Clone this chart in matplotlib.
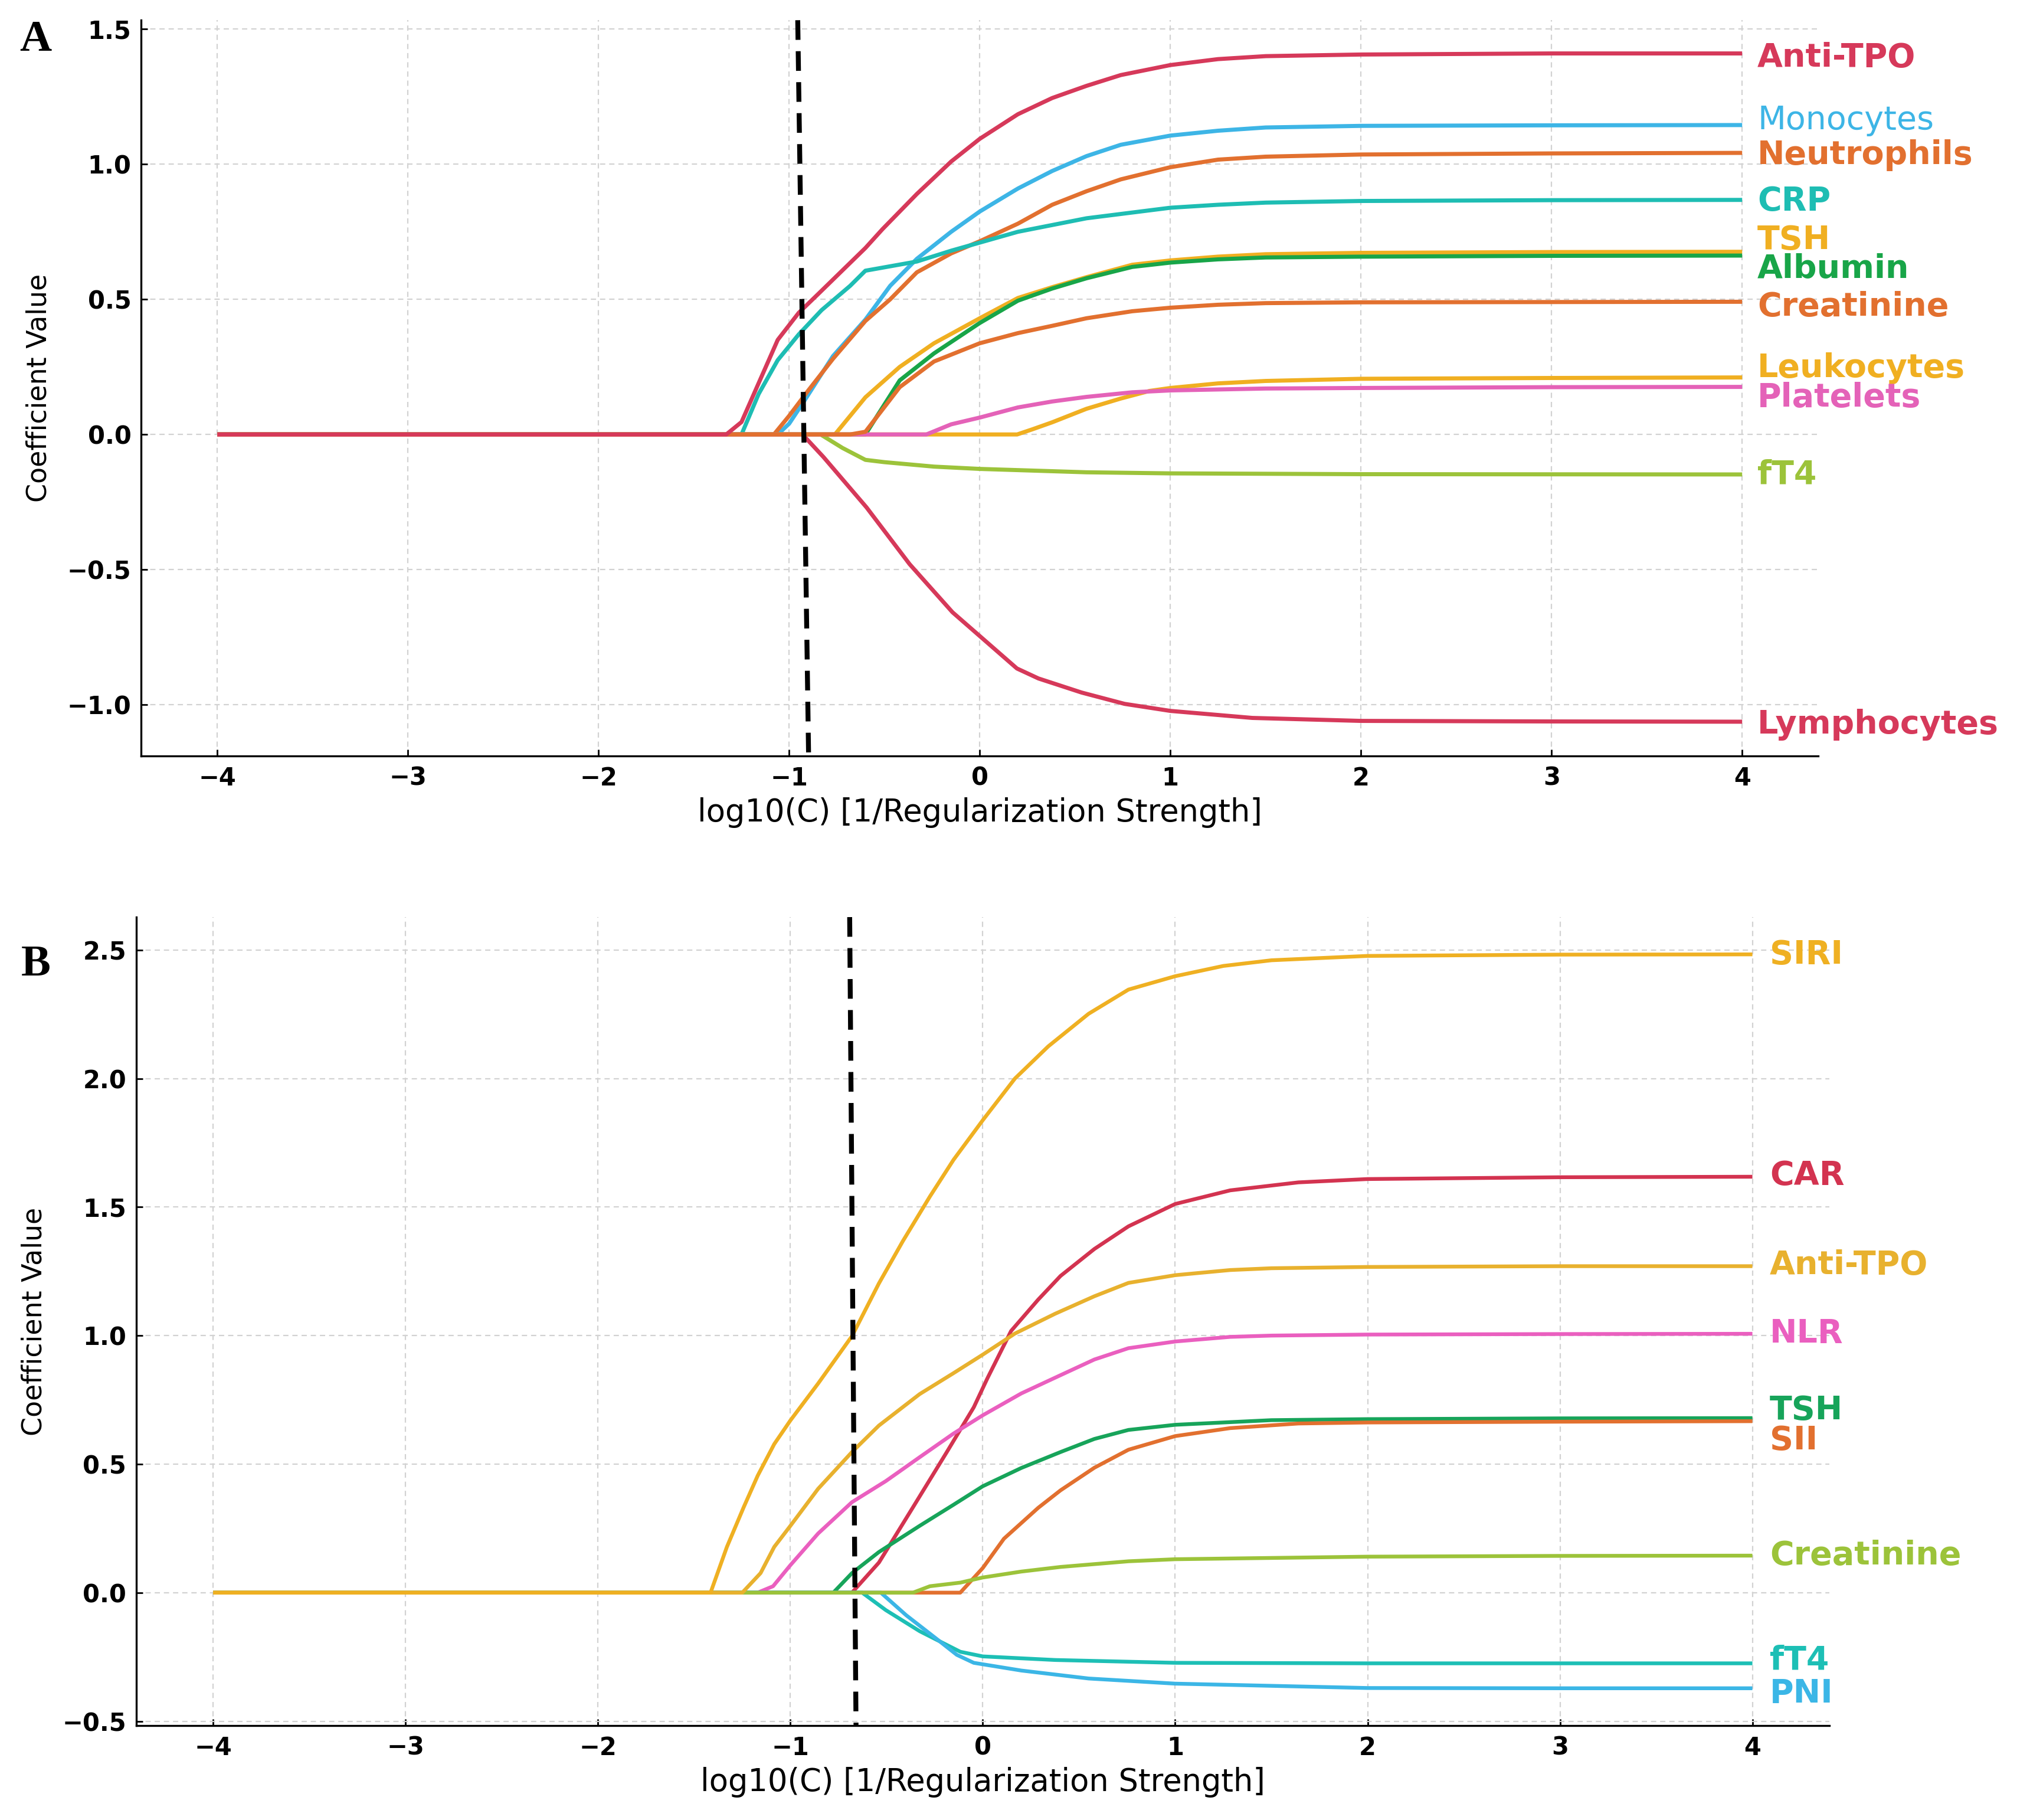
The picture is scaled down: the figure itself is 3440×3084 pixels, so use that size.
import matplotlib
matplotlib.use("Agg")
import matplotlib.pyplot as plt

# ---------------- panel A data (log10 C, coefficient) ----------------
a_antitpo_x = [-4, -1.33, -1.25, -1.16, -1.06, -0.95, -0.84, -0.60, -0.51, -0.33, -0.15, 0.0, 0.2, 0.38, 0.56, 0.74, 1.0, 1.25, 1.5, 2.0, 3.0, 4.0]
a_antitpo_y = [0, 0, 0.046, 0.19, 0.35, 0.45, 0.525, 0.69, 0.76, 0.89, 1.01, 1.094, 1.185, 1.245, 1.29, 1.33, 1.367, 1.389, 1.40, 1.406, 1.41, 1.41]

a_mono_x = [-4, -1.06, -1.0, -0.92, -0.77, -0.60, -0.47, -0.33, -0.15, 0, 0.2, 0.38, 0.56, 0.74, 1.0, 1.25, 1.5, 2, 3, 4]
a_mono_y = [0, 0, 0.04, 0.125, 0.29, 0.425, 0.55, 0.65, 0.75, 0.825, 0.91, 0.975, 1.03, 1.072, 1.106, 1.124, 1.136, 1.142, 1.144, 1.145]

a_neut_x = [-4, -1.08, -1.0, -0.9, -0.77, -0.6, -0.47, -0.33, -0.15, 0, 0.2, 0.38, 0.56, 0.74, 1.0, 1.25, 1.5, 2, 3, 4]
a_neut_y = [0, 0, 0.069, 0.1625, 0.28, 0.42, 0.50, 0.60, 0.67, 0.715, 0.78, 0.85, 0.90, 0.944, 0.989, 1.017, 1.028, 1.036, 1.04, 1.042]

a_crp_x = [-4, -1.25, -1.16, -1.06, -0.95, -0.83, -0.68, -0.60, -0.33, -0.15, 0, 0.2, 0.38, 0.56, 1.0, 1.25, 1.5, 2, 3, 4]
a_crp_y = [0, 0, 0.15, 0.275, 0.37, 0.46, 0.55, 0.606, 0.64, 0.68, 0.71, 0.75, 0.775, 0.80, 0.839, 0.85, 0.858, 0.864, 0.867, 0.868]

a_tsh_x = [-4, -0.76, -0.6, -0.42, -0.24, 0, 0.2, 0.38, 0.56, 0.8, 1.0, 1.25, 1.5, 2, 3, 4]
a_tsh_y = [0, 0, 0.1375, 0.25, 0.3375, 0.43, 0.505, 0.545, 0.582, 0.628, 0.644, 0.658, 0.667, 0.672, 0.675, 0.676]

a_alb_x = [-4, -0.60, -0.42, -0.24, 0, 0.2, 0.38, 0.56, 0.8, 1.0, 1.25, 1.5, 2, 3, 4]
a_alb_y = [0, 0, 0.2, 0.30, 0.4125, 0.495, 0.54, 0.578, 0.62, 0.636, 0.648, 0.655, 0.658, 0.661, 0.662]

a_creat_x = [-4, -0.68, -0.6, -0.42, -0.24, 0, 0.2, 0.38, 0.56, 0.8, 1.0, 1.25, 1.5, 2, 3, 4]
a_creat_y = [0, 0, 0.01, 0.175, 0.27, 0.3375, 0.375, 0.402, 0.43, 0.456, 0.469, 0.48, 0.486, 0.489, 0.49, 0.491]

a_leuko_x = [-4, 0.196, 0.276, 0.38, 0.56, 0.74, 0.89, 1.0, 1.25, 1.5, 2, 3, 4]
a_leuko_y = [0, 0, 0.019, 0.045, 0.095, 0.133, 0.161, 0.172, 0.189, 0.198, 0.206, 0.209, 0.211]

a_plt_x = [-4, -0.28, -0.15, 0, 0.2, 0.38, 0.56, 0.8, 1.0, 1.5, 2, 3, 4]
a_plt_y = [0, 0, 0.0375, 0.0625, 0.10, 0.122, 0.139, 0.156, 0.163, 0.17, 0.172, 0.175, 0.176]

a_ft4_x = [-0.835, -0.72, -0.60, -0.5, -0.24, 0, 0.56, 1.0, 2, 4]
a_ft4_y = [0, -0.05, -0.094, -0.1025, -0.119, -0.1275, -0.14, -0.144, -0.147, -0.148]

a_lymph_x = [-4, -0.93, -0.82, -0.594, -0.368, -0.143, 0, 0.195, 0.308, 0.534, 0.76, 1.0, 1.43, 2, 3, 4]
a_lymph_y = [0, 0, -0.0835, -0.27, -0.48, -0.658, -0.746, -0.866, -0.903, -0.955, -0.997, -1.023, -1.049, -1.06, -1.062, -1.063]

# ---------------- panel B data ----------------
b_siri_x = [-4, -1.415, -1.33, -1.243, -1.17, -1.084, -1.0, -0.856, -0.68, -0.54, -0.416, -0.275, -0.152, 0, 0.167, 0.34, 0.55, 0.757, 1.0, 1.25, 1.5, 2, 3, 4]
b_siri_y = [0, 0, 0.178, 0.332, 0.455, 0.578, 0.67, 0.8135, 0.998, 1.203, 1.367, 1.541, 1.684, 1.838, 2.0, 2.125, 2.252, 2.346, 2.398, 2.438, 2.46, 2.477, 2.482, 2.483]

b_antitpo_x = [-4, -1.25, -1.155, -1.084, -1.0, -0.856, -0.68, -0.54, -0.328, -0.152, 0, 0.167, 0.376, 0.58, 0.757, 1.0, 1.286, 1.5, 2, 3, 4]
b_antitpo_y = [0, 0, 0.076, 0.178, 0.26, 0.404, 0.547, 0.65, 0.7725, 0.854, 0.926, 1.008, 1.085, 1.153, 1.205, 1.235, 1.255, 1.262, 1.267, 1.27, 1.27]

b_nlr_x = [-4, -1.17, -1.09, -1.0, -0.856, -0.68, -0.504, -0.328, -0.152, 0, 0.2, 0.404, 0.58, 0.757, 1.0, 1.286, 1.5, 2, 3, 4]
b_nlr_y = [0, 0, 0.025, 0.107, 0.23, 0.352, 0.434, 0.527, 0.619, 0.69, 0.775, 0.846, 0.907, 0.951, 0.977, 0.995, 1.0, 1.004, 1.006, 1.007]

b_car_x = [-4, -0.68, -0.54, -0.363, -0.187, -0.047, 0.024, 0.147, 0.288, 0.404, 0.58, 0.757, 1.0, 1.286, 1.64, 2, 3, 4]
b_car_y = [0, 0, 0.117, 0.332, 0.547, 0.721, 0.834, 1.018, 1.14, 1.232, 1.337, 1.425, 1.512, 1.565, 1.596, 1.609, 1.616, 1.618]

b_tsh_x = [-4, -0.777, -0.68, -0.54, -0.328, -0.152, 0, 0.2, 0.404, 0.58, 0.757, 1.0, 1.5, 2, 3, 4]
b_tsh_y = [0, 0, 0.076, 0.158, 0.26, 0.342, 0.414, 0.485, 0.547, 0.598, 0.633, 0.653, 0.671, 0.675, 0.678, 0.679]

b_sii_x = [-4, -0.117, 0, 0.11, 0.288, 0.404, 0.58, 0.757, 1.0, 1.286, 1.64, 2, 3, 4]
b_sii_y = [0, 0, 0.096, 0.21, 0.33, 0.398, 0.486, 0.556, 0.609, 0.64, 0.658, 0.662, 0.665, 0.667]

b_creat_x = [-4, -0.363, -0.275, -0.117, 0, 0.2, 0.404, 0.757, 1.0, 2, 3, 4]
b_creat_y = [0, 0, 0.025, 0.039, 0.059, 0.082, 0.10, 0.122, 0.13, 0.14, 0.143, 0.144]

b_ft4_x = [-4, -0.627, -0.504, -0.328, -0.117, 0, 0.376, 1.0, 2, 4]
b_ft4_y = [0, 0, -0.068, -0.15, -0.23, -0.248, -0.262, -0.273, -0.275, -0.275]

b_pni_x = [-4, -0.53, -0.398, -0.24, -0.135, -0.047, 0.2, 0.55, 1.0, 2, 3, 4]
b_pni_y = [0, 0, -0.088, -0.18, -0.242, -0.273, -0.303, -0.334, -0.354, -0.371, -0.372, -0.372]

# optimal C marker (slightly tilted in the figure): x at top, x at bottom
cut_a = [-0.955, -0.898]
cut_b = [-0.692, -0.659]

# series: (name, x, y, colour, label y, bold)  -- drawing order bottom -> top
series_a = [
    ("Lymphocytes", a_lymph_x, a_lymph_y, "#d6395a", -1.062, True),
    ("fT4", a_ft4_x, a_ft4_y, "#9cc33a", -0.135, True),
    ("Monocytes", a_mono_x, a_mono_y, "#3db5e6", 1.175, False),
    ("Neutrophils", a_neut_x, a_neut_y, "#e2702f", 1.046, True),
    ("CRP", a_crp_x, a_crp_y, "#1ebdb3", 0.876, True),
    ("TSH", a_tsh_x, a_tsh_y, "#f0af21", 0.732, True),
    ("Albumin", a_alb_x, a_alb_y, "#18a548", 0.624, True),
    ("Leukocytes", a_leuko_x, a_leuko_y, "#f0af21", 0.258, True),
    ("Platelets", a_plt_x, a_plt_y, "#e462b8", 0.150, True),
    ("Creatinine", a_creat_x, a_creat_y, "#e2702f", 0.485, True),
    ("Anti-TPO", a_antitpo_x, a_antitpo_y, "#d6395a", 1.406, True),
]

series_b = [
    ("CAR", b_car_x, b_car_y, "#d33350", 1.636, True),
    ("NLR", b_nlr_x, b_nlr_y, "#ea5fbf", 1.021, True),
    ("TSH", b_tsh_x, b_tsh_y, "#17a45a", 0.722, True),
    ("SII", b_sii_x, b_sii_y, "#e2702f", 0.606, True),
    ("fT4", b_ft4_x, b_ft4_y, "#1dbfb5", -0.250, True),
    ("PNI", b_pni_x, b_pni_y, "#3bb6e6", -0.380, True),
    ("Creatinine", b_creat_x, b_creat_y, "#9cc33a", 0.158, True),
    ("Anti-TPO", b_antitpo_x, b_antitpo_y, "#e8b12e", 1.287, True),
    ("SIRI", b_siri_x, b_siri_y, "#efb022", 2.495, True),
]

xlabel = "log10(C) [1/Regularization Strength]"
ylabel = "Coefficient Value"


def draw_panel(ax, series, cut, ylim, yticks, label_x, lw):
    for name, xs, ys, col, ly, bold in series:
        ax.plot(xs, ys, color=col, lw=lw, solid_capstyle="butt",
                solid_joinstyle="round")
        ax.text(label_x, ly, name, color=col, fontsize=20,
                fontweight="bold" if bold else "normal",
                ha="left", va="center_baseline", clip_on=False)
    ax.plot(cut, [ylim[1], ylim[0]], color="black", lw=3.0,
            dashes=(4.0, 2.3), zorder=5)
    ax.set_xlim(-4.4, 4.4)
    ax.set_ylim(*ylim)
    ax.set_xticks(range(-4, 5))
    ax.set_yticks(yticks)
    ax.set_yticklabels([f"{v:.1f}".replace("-", "\u2212") for v in yticks])
    ax.grid(True, color="#d2d2d2", lw=0.8, linestyle=(0, (4, 3)))
    ax.set_axisbelow(True)
    for s in ["top", "right"]:
        ax.spines[s].set_visible(False)
    for s in ["left", "bottom"]:
        ax.spines[s].set_linewidth(1.2)
    ax.tick_params(direction="in", length=4, width=1.0, pad=6, labelsize=15)
    for t in ax.get_xticklabels() + ax.get_yticklabels():
        t.set_fontweight("bold")
    ax.set_xlabel(xlabel, fontsize=19, labelpad=4)
    ax.set_ylabel(ylabel, fontsize=16.5, labelpad=9)


fig = plt.figure(figsize=(17.205, 15.42), dpi=200)
ax_a = fig.add_axes([0.0695, 0.5846, 0.826, 0.4043])
ax_b = fig.add_axes([0.0671, 0.0519, 0.8338, 0.4442])

draw_panel(ax_a, series_a, cut_a, (-1.19, 1.533), [-1.0, -0.5, 0.0, 0.5, 1.0, 1.5], 4.08, 2.5)
draw_panel(ax_b, series_b, cut_b, (-0.517, 2.628), [-0.5, 0.0, 0.5, 1.0, 1.5, 2.0, 2.5], 4.09, 2.3)

fig.text(0.0096, 0.989, "A", fontsize=27, fontweight="bold",
         family=["Liberation Serif", "DejaVu Serif"], ha="left", va="top")
fig.text(0.0105, 0.481, "B", fontsize=27, fontweight="bold",
         family=["Liberation Serif", "DejaVu Serif"], ha="left", va="top")

fig.savefig("out.png", dpi=200)
